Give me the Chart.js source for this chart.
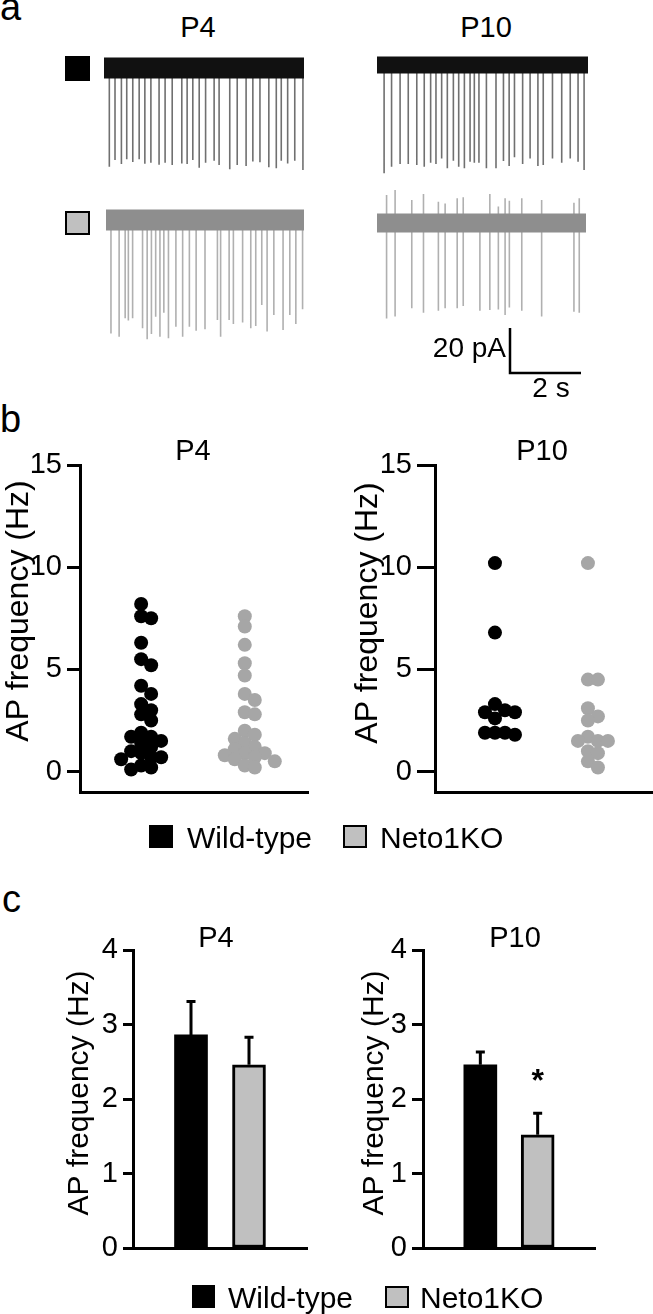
<!DOCTYPE html>
<html><head><meta charset="utf-8">
<script src="https://cdn.jsdelivr.net/npm/chart.js@4.4.1/dist/chart.umd.min.js"></script>
<style>
html,body{margin:0;padding:0;background:#fff;}
#fig{position:relative;width:653px;height:1314px;overflow:hidden;font-family:"Liberation Sans",Arial,Helvetica,sans-serif;color:#000;}
#fig canvas{position:absolute;}
.t{position:absolute;white-space:nowrap;}
.sq{position:absolute;box-sizing:border-box;}
</style></head><body><div id="fig"></div>
<script>
// ================= DATA =================
const groups = ['Wild-type', 'Neto1KO'];
const ages = ['P4', 'P10'];
const yAxisTitle = 'AP frequency (Hz)';

// Panel a: example traces (spike times in s, spike amplitudes in pA)
const traceDurations = [5.63, 5.94, 5.58, 5.89]; // WT P4, WT P10, KO P4, KO P10
const wtP4SpikeTimes = [0.15,0.31,0.49,0.64,0.81,0.99,1.15,1.32,1.55,1.72,1.92,2.19,2.34,2.50,2.68,2.86,3.10,3.24,3.54,3.75,4.00,4.19,4.39,4.64,4.85,4.99,5.17,5.37,5.60];
const wtP4SpikeAmps  = [43.9,40.9,42.7,40.6,41.8,40.6,42.5,42.1,43.0,42.1,43.1,42.4,42.7,40.9,44.3,42.1,41.2,43.1,45.0,43.1,43.6,41.5,41.9,44.1,44.6,41.2,42.4,41.2,45.3];
const wtP10SpikeTimes = [0.20,0.41,0.65,0.88,1.12,1.33,1.51,1.66,1.82,1.98,2.15,2.30,2.46,2.62,2.74,2.87,3.08,3.35,3.56,3.72,3.87,4.10,4.31,4.53,4.68,4.94,5.20,5.44,5.66,5.83];
const wtP10SpikeAmps  = [48.1,45.2,44.0,44.0,44.4,45.2,43.4,44.0,41.5,45.9,42.5,45.2,45.9,43.0,43.4,43.4,45.9,45.9,42.7,44.9,41.0,44.0,41.5,44.9,44.4,41.5,43.4,41.5,43.0,46.7];
const koP4SpikeTimes = [0.14,0.37,0.54,0.63,0.75,1.03,1.16,1.28,1.40,1.52,1.63,1.76,1.97,2.16,2.35,2.54,2.79,3.14,3.23,3.47,3.59,3.85,4.08,4.22,4.39,4.54,4.73,4.99,5.18,5.35,5.54];
const koP4SpikeAmps  = [50.4,51.9,43.7,44.7,43.7,48.1,53.0,50.7,43.0,51.9,41.2,52.6,47.4,51.9,47.4,49.2,48.6,44.4,51.9,44.4,46.2,45.6,48.1,47.1,37.8,49.6,42.2,48.9,42.2,46.2,39.7];
const koP10SpikeTimes = [0.27,0.51,0.98,1.31,1.73,1.92,2.26,2.43,2.90,3.18,3.42,3.61,3.73,4.08,4.64,5.55,5.70];
const koP10SpikeAmps  = [42.4,41.6,37.9,39.9,39.0,37.9,37.9,36.9,39.0,38.7,38.4,40.9,37.5,39.0,41.6,39.4,39.9];
const koP10SpikeUps   = [12.4,14.7,10.2,12.9,9.5,8.7,11.0,11.4,3.6,12.9,7.3,11.0,9.9,11.0,10.2,9.0,11.0];
const scaleBarPA = 20;
const scaleBarS = 2;

// Panel b: individual cells (Hz)
const wtP4Freq  = [8.2,7.6,7.5,6.3,5.5,5.2,4.2,3.8,3.3,3.0,2.8,2.5,1.9,1.7,1.7,1.5,1.4,1.2,1.0,0.9,0.7,0.7,0.6,0.3,0.2,0.1];
const koP4Freq  = [7.6,7.1,6.2,5.3,4.7,3.8,3.5,2.9,2.8,2.0,1.8,1.6,1.4,1.2,1.1,0.9,0.9,0.8,0.7,0.6,0.5,0.3,0.2];
const wtP10Freq = [10.2,6.8,3.3,3.0,2.9,2.9,2.6,1.9,1.9,1.9,1.8];
const koP10Freq = [10.2,4.5,4.5,3.1,2.7,2.5,1.7,1.5,1.5,1.5,1.0,0.9,0.5,0.2];
const ticksB = [0, 5, 10, 15];

// Panel c: mean and SEM (Hz)
const meanP4  = [2.86, 2.46];
const semP4   = [0.45, 0.37];
const meanP10 = [2.46, 1.52];
const semP10  = [0.17, 0.29];
const sigP4   = ['', ''];
const sigP10  = ['', '*'];
const ticksC = [0, 1, 2, 3, 4];

// ================= STYLE / LAYOUT =================
const FONT = '"Liberation Sans", Arial, Helvetica, sans-serif';
const BLACK = '#000000', GREY_DOT = '#a6a6a6', GREY_BAR = '#c0c0c0';
Chart.defaults.font.family = FONT;
Chart.defaults.color = '#000';
const fig = document.getElementById('fig');

function addText(str, x, baseline, size, align, weight) {
  const d = document.createElement('div');
  d.className = 't'; d.textContent = str;
  d.style.fontSize = size + 'px'; d.style.lineHeight = size + 'px';
  d.style.fontWeight = weight || 'normal';
  d.style.top = (baseline - 0.8465 * size) + 'px';
  d.style.left = x + 'px';
  if (align === 'center') d.style.transform = 'translateX(-50%)';
  else if (align === 'right') d.style.transform = 'translateX(-100%)';
  fig.appendChild(d);
}
function addSquare(x, y, w, h, fill, border) {
  const d = document.createElement('div');
  d.className = 'sq';
  Object.assign(d.style, {left: x + 'px', top: y + 'px', width: w + 'px', height: h + 'px', background: fill,
    border: border ? border + 'px solid #000' : 'none'});
  fig.appendChild(d);
}
function addCanvas(x, y, w, h) {
  const c = document.createElement('canvas');
  c.width = w; c.height = h;
  Object.assign(c.style, {left: x + 'px', top: y + 'px', width: w + 'px', height: h + 'px'});
  fig.appendChild(c);
  return c;
}

// plugin: chart title + rotated y label, error bars + significance marks
const deco = {
  id: 'deco',
  afterDatasetsDraw(chart, args, o) {
    const ctx = chart.ctx, ys = chart.scales.y;
    chart.data.datasets.forEach((ds, d) => {
      if (!ds.sem) return;
      const meta = chart.getDatasetMeta(d);
      meta.data.forEach((el, i) => {
        const top = ys.getPixelForValue(ds.data[i].y + ds.sem[i]);
        ctx.save();
        ctx.strokeStyle = '#000'; ctx.lineWidth = 3; ctx.lineCap = 'butt';
        ctx.beginPath(); ctx.moveTo(el.x, el.y); ctx.lineTo(el.x, top);
        ctx.moveTo(el.x - 4.5, top); ctx.lineTo(el.x + 4.5, top); ctx.stroke();
        if (ds.sig && ds.sig[i]) {
          ctx.fillStyle = '#000'; ctx.font = 'bold 32px ' + FONT;
          ctx.textAlign = 'center'; ctx.textBaseline = 'alphabetic';
          ctx.fillText(ds.sig[i], el.x, top - 22);
        }
        ctx.restore();
      });
    });
  },
  afterDraw(chart, args, o) {
    if (!o || (!o.title && !o.ylabel)) return;
    const ctx = chart.ctx;
    ctx.save(); ctx.fillStyle = '#000'; ctx.textBaseline = 'alphabetic'; ctx.textAlign = 'center';
    if (o.title) { ctx.font = o.titleSize + 'px ' + FONT; ctx.fillText(o.title, o.titleX, o.titleY); }
    if (o.ylabel) {
      ctx.font = o.labelSize + 'px ' + FONT;
      ctx.translate(o.labelX, o.labelY); ctx.rotate(-Math.PI / 2);
      ctx.fillText(o.ylabel, 0, 0);
    }
    ctx.restore();
  }
};
Chart.register(deco);

const baseOpts = {responsive: false, animation: false, events: [], devicePixelRatio: 1};

// ---------- Panel a ----------
const PX_S = 35.5, PX_PA = 2.25, TR_YMAX = 20, TR_YMIN = -60;
function traceChart(left, baselinePx, dur, times, down, up, bandColor, spikeColor, bandW) {
  const w = Math.round(dur * PX_S), h = (TR_YMAX - TR_YMIN) * PX_PA;
  const c = addCanvas(left, baselinePx - TR_YMAX * PX_PA, w, h);
  const spikes = [];
  times.forEach((t, i) => {
    spikes.push({x: t, y: up ? up[i] : 0}, {x: t, y: -down[i]}, {x: t, y: null});
  });
  new Chart(c, {
    type: 'line',
    data: {datasets: [
      {data: [{x: 0, y: 0}, {x: dur, y: 0}], borderColor: bandColor, borderWidth: bandW, pointRadius: 0, clip: false, borderCapStyle: 'butt'},
      {data: spikes, borderColor: spikeColor, borderWidth: 1.6, pointRadius: 0, spanGaps: false, clip: false}
    ]},
    options: Object.assign({}, baseOpts, {
      layout: {padding: 0, autoPadding: false},
      plugins: {legend: {display: false}, tooltip: {enabled: false}},
      scales: {x: {type: 'linear', display: false, min: 0, max: dur}, y: {display: false, min: TR_YMIN, max: TR_YMAX}}
    })
  });
}

addText('a', 0, 20, 38, 'left');
addText(ages[0], 198, 38, 29, 'center');
addText(ages[1], 486, 38, 29, 'center');
addSquare(65, 56, 25, 25, BLACK, 0);
addSquare(65, 211, 25, 24, GREY_BAR, 2.5);
traceChart(104, 68, traceDurations[0], wtP4SpikeTimes, wtP4SpikeAmps, null, '#111111', '#707070', 21);
traceChart(377, 65, traceDurations[1], wtP10SpikeTimes, wtP10SpikeAmps, null, '#111111', '#707070', 17);
traceChart(106, 220, traceDurations[2], koP4SpikeTimes, koP4SpikeAmps, null, '#8e8e8e', '#b0b0b0', 21);
traceChart(377, 223, traceDurations[3], koP10SpikeTimes, koP10SpikeAmps, koP10SpikeUps, '#8e8e8e', '#b0b0b0', 19);

// scale bar
(function () {
  const ox = 10, oy = 55, w = 100, h = 65;
  const c = addCanvas(500, 373 - oy, w, h);
  new Chart(c, {
    type: 'line',
    data: {datasets: [{data: [{x: 0, y: scaleBarPA}, {x: 0, y: 0}, {x: scaleBarS, y: 0}], borderColor: '#000', borderWidth: 2.5,
      pointRadius: 0, clip: false, borderJoinStyle: 'miter'}]},
    options: Object.assign({}, baseOpts, {
      layout: {padding: 0, autoPadding: false},
      plugins: {legend: {display: false}, tooltip: {enabled: false}},
      scales: {x: {type: 'linear', display: false, min: -ox / PX_S, max: (w - ox) / PX_S},
               y: {display: false, min: -(h - oy) / PX_PA, max: oy / PX_PA}}
    })
  });
})();
addText(scaleBarPA + ' pA', 506, 358, 28, 'right');
addText(scaleBarS + ' s', 551, 398, 28, 'center');

// ---------- Panel b ----------
function swarmOffsets(values, pxPerY, D, step) {
  const order = values.map((v, i) => i).sort((a, b) => values[b] - values[a]);
  const placed = [], off = new Array(values.length).fill(0);
  for (const i of order) {
    const y = values[i] * pxPerY;
    for (let k = 0; k < 50; k++) {
      const cands = k === 0 ? [0] : [k * step, -k * step];
      const ok = cands.find(cx => placed.every(p => Math.hypot(p.x - cx, p.y - y) >= D));
      if (ok !== undefined) { placed.push({x: ok, y}); off[i] = ok; break; }
    }
  }
  return off;
}
function scatterChart(cx, cy, cw, ch, pad, yWidth, xMin, xMax, tickLen, wtVals, koVals, deco) {
  const c = addCanvas(cx, cy, cw, ch);
  const chart = new Chart(c, {
    type: 'scatter',
    data: {datasets: [
      {label: groups[0], data: wtVals.map(v => ({x: 1, y: v})), backgroundColor: BLACK, borderWidth: 0, pointRadius: 7, pointHoverRadius: 7},
      {label: groups[1], data: koVals.map(v => ({x: 2, y: v})), backgroundColor: GREY_DOT, borderWidth: 0, pointRadius: 7, pointHoverRadius: 7}
    ]},
    options: Object.assign({}, baseOpts, {
      layout: {padding: pad, autoPadding: false},
      plugins: {legend: {display: false}, tooltip: {enabled: false}, deco},
      scales: {
        x: {type: 'linear', min: xMin, max: xMax, offset: false, ticks: {display: false},
            afterFit: s => { s.height = 0; },
            grid: {display: false, drawTicks: false, tickLength: 0}, border: {display: true, color: '#000', width: 3}},
        y: {min: -1, max: 15,
            afterBuildTicks: s => { s.ticks = ticksB.map(v => ({value: v})); },
            afterFit: s => { s.width = yWidth; },
            ticks: {color: '#000', font: {size: 29}, padding: 5},
            grid: {display: true, drawOnChartArea: false, drawTicks: true, tickLength: tickLen, tickWidth: 3, tickColor: '#000'},
            border: {display: true, color: '#000', width: 3}}
      }
    })
  });
  const xs = chart.scales.x, ys = chart.scales.y;
  const pxX = xs.getPixelForValue(2) - xs.getPixelForValue(1);
  const pxY = ys.getPixelForValue(0) - ys.getPixelForValue(1);
  [wtVals, koVals].forEach((vals, d) => {
    const off = swarmOffsets(vals, pxY, 10, 5);
    chart.data.datasets[d].data = vals.map((v, i) => ({x: d + 1 + off[i] / pxX, y: v}));
  });
  chart.update('none');
}
addText('b', 0, 432, 38, 'left');
scatterChart(0, 400, 330, 430, {left: 0, top: 65, right: 22, bottom: 38}, 80, 0.41, 2.61, 13, wtP4Freq, koP4Freq,
  {title: ages[0], titleX: 193, titleY: 60, titleSize: 29, ylabel: yAxisTitle, labelX: 28, labelY: 211, labelSize: 32});
scatterChart(330, 400, 323, 430, {left: 0, top: 65, right: 0, bottom: 38}, 105, 0.355, 2.7, 18, wtP10Freq, koP10Freq,
  {title: ages[1], titleX: 212, titleY: 60, titleSize: 29, ylabel: yAxisTitle, labelX: 47, labelY: 213, labelSize: 32});
// legend b
addSquare(149, 825, 24, 23, BLACK, 0);
addText(groups[0], 187, 848, 30, 'left');
addSquare(343, 825, 24, 23, GREY_BAR, 2.5);
addText(groups[1], 380, 848, 30, 'left');

// ---------- Panel c ----------
function barChart(cx, cy, cw, ch, pad, yWidth, tickLen, means, sems, sigs, deco) {
  const c = addCanvas(cx, cy, cw, ch);
  new Chart(c, {
    type: 'bar',
    data: {datasets: [
      {label: groups[0], data: [{x: 1, y: means[0]}], sem: [sems[0]], sig: [sigs[0]], backgroundColor: BLACK, borderWidth: 0,
       barThickness: 33, grouped: false},
      {label: groups[1], data: [{x: 2, y: means[1]}], sem: [sems[1]], sig: [sigs[1]], backgroundColor: GREY_BAR, borderColor: '#000',
       borderWidth: 3, borderSkipped: false, barThickness: 33, grouped: false}
    ]},
    options: Object.assign({}, baseOpts, {
      layout: {padding: pad, autoPadding: false},
      plugins: {legend: {display: false}, tooltip: {enabled: false}, deco},
      scales: {
        x: {type: 'linear', min: 0, max: 3, offset: false, ticks: {display: false},
            afterFit: s => { s.height = 0; },
            grid: {display: false, drawTicks: false, tickLength: 0}, border: {display: true, color: '#000', width: 3}},
        y: {min: 0, max: 4,
            afterBuildTicks: s => { s.ticks = ticksC.map(v => ({value: v})); },
            afterFit: s => { s.width = yWidth; },
            ticks: {color: '#000', font: {size: 29}, padding: 5},
            grid: {display: true, drawOnChartArea: false, drawTicks: true, tickLength: tickLen, tickWidth: 3, tickColor: '#000'},
            border: {display: true, color: '#000', width: 3}}
      }
    })
  });
}
addText('c', 2, 912, 38, 'left');
barChart(0, 900, 330, 390, {left: 0, top: 50, right: 23, bottom: 42}, 133, 10, meanP4, semP4, sigP4,
  {title: ages[0], titleX: 216, titleY: 47, titleSize: 29, ylabel: yAxisTitle, labelX: 88, labelY: 193, labelSize: 30});
barChart(330, 900, 323, 390, {left: 0, top: 50, right: 58, bottom: 42}, 93, 11, meanP10, semP10, sigP10,
  {title: ages[1], titleX: 185, titleY: 47, titleSize: 29, ylabel: yAxisTitle, labelX: 53, labelY: 193, labelSize: 30});
// legend c
addSquare(192, 1285, 23, 23, BLACK, 0);
addText(groups[0], 228, 1308, 30, 'left');
addSquare(385, 1286, 24, 22, GREY_BAR, 2.5);
addText(groups[1], 420, 1308, 30, 'left');
</script></body></html>
